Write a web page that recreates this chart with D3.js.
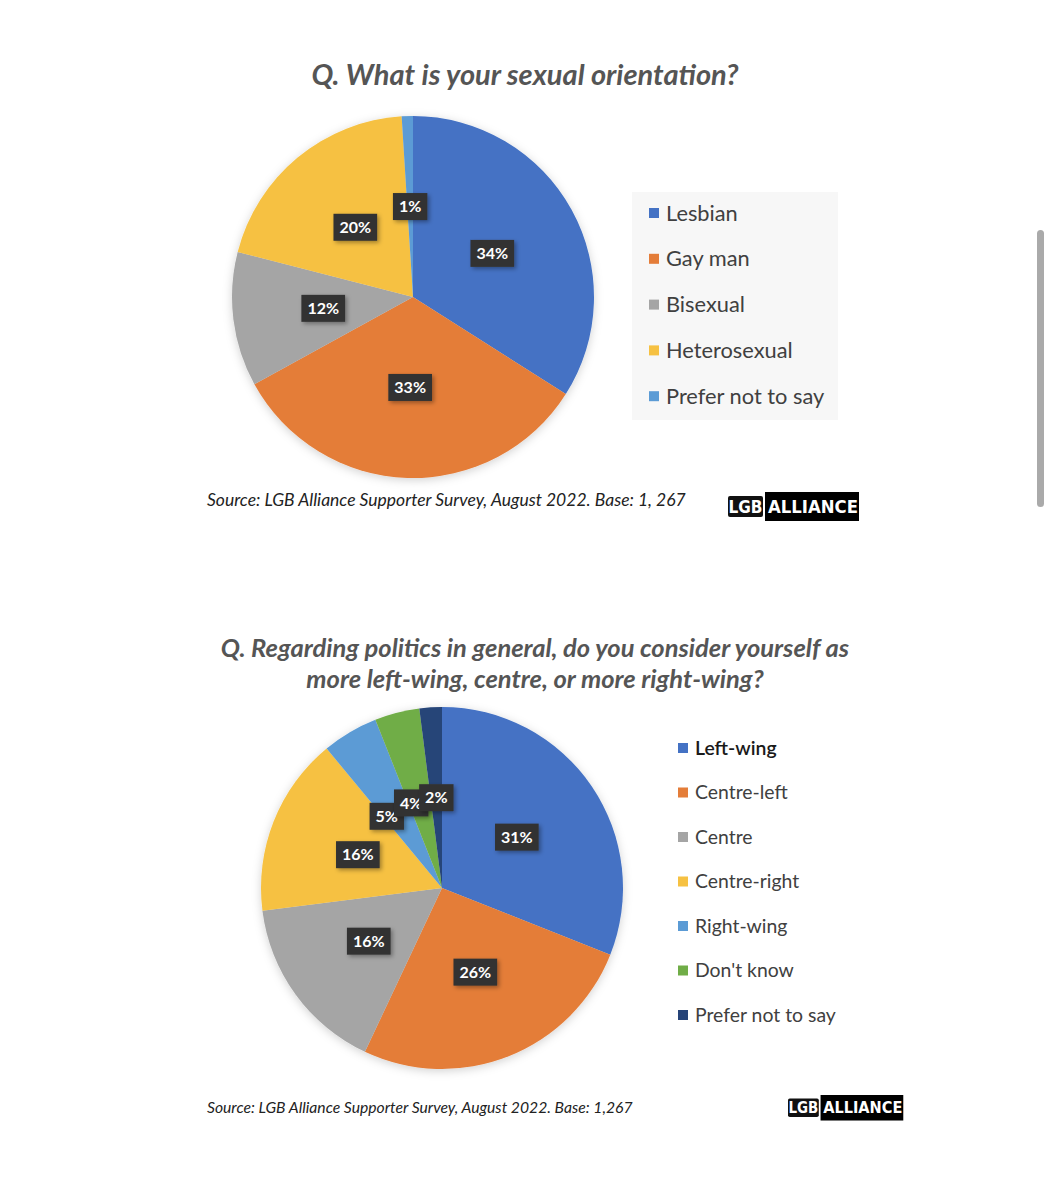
<!DOCTYPE html>
<html>
<head>
<meta charset="utf-8">
<script src="https://cdn.jsdelivr.net/npm/d3@7"></script>
<style>
  body { margin: 0; background: #fff; }
  svg { display: block; font-family: Lato, "Open Sans", sans-serif; }
</style>
</head>
<body>
<div id="chart"></div>
<script>
// chart values
const orientationLabels = ["Lesbian", "Gay man", "Bisexual", "Heterosexual", "Prefer not to say"];
const orientationValues = [34, 33, 12, 20, 1];
const orientationColors = ["#4472C4", "#E47D39", "#A5A5A5", "#F6C142", "#5B9BD5"];

const politicsLabels = ["Left-wing", "Centre-left", "Centre", "Centre-right", "Right-wing", "Don't know", "Prefer not to say"];
const politicsValues = [31, 26, 16, 16, 5, 4, 2];
const politicsColors = ["#4472C4", "#E47D39", "#A5A5A5", "#F6C142", "#5B9BD5", "#70AD47", "#264478"];

const titleTop = ["Q. What is your sexual orientation?"];
const titleBottom = ["Q. Regarding politics in general, do you consider yourself as", "more left-wing, centre, or more right-wing?"];
const sourceTop = "Source: LGB Alliance Supporter Survey, August 2022. Base: 1, 267";
const sourceBottom = "Source: LGB Alliance Supporter Survey, August 2022. Base: 1,267";

const W = 1052, H = 1200;

const svg = d3.select("#chart")
  .append("svg")
  .attr("width", W)
  .attr("height", H);

// filters for soft shadows
const defs = svg.append("defs");
const pieGlow = defs.append("filter").attr("id", "pieGlow")
  .attr("x", "-20%").attr("y", "-20%").attr("width", "140%").attr("height", "140%");
pieGlow.append("feDropShadow")
  .attr("dx", 0).attr("dy", 2).attr("stdDeviation", 5)
  .attr("flood-color", "#000").attr("flood-opacity", 0.18);

const boxShadow = defs.append("filter").attr("id", "boxShadow")
  .attr("x", "-40%").attr("y", "-40%").attr("width", "180%").attr("height", "180%");
boxShadow.append("feDropShadow")
  .attr("dx", 2).attr("dy", 2).attr("stdDeviation", 2)
  .attr("flood-color", "#000").attr("flood-opacity", 0.35);

//Draw a pie with Excel-style dark labels

function drawPie(values, colors, cx, cy, r) {
  const pie = d3.pie().sort(null).value(d => d);
  const arcs = pie(values);
  const arc = d3.arc().innerRadius(0).outerRadius(r);
  const lr = r * 0.5; // label radius

  const g = svg.append("g").attr("transform", `translate(${cx},${cy})`);

  g.append("g")
    .attr("filter", "url(#pieGlow)")
    .selectAll("path")
    .data(arcs)
    .join("path")
    .attr("d", arc)
    .attr("fill", (d, i) => colors[i]);

  const labels = g.append("g")
    .selectAll("g")
    .data(arcs)
    .join("g");

  labels.append("rect")
    .attr("filter", "url(#boxShadow)")
    .attr("fill", "#333")
    .attr("height", 27)
    .attr("y", -13.5);

  labels.append("text")
    .attr("text-anchor", "middle")
    .attr("dy", "0.36em")
    .style("font-size", "16px")
    .style("font-weight", "bold")
    .style("fill", "#fff")
    .text(d => `${d.data}%`);

  // measure, then place labels on the mid-angle; nudge small ones counter-clockwise
  const placed = [];
  const nodes = labels.nodes();
  for (let i = arcs.length - 1; i >= 0; i--) {
    const sel = d3.select(nodes[i]);
    const tw = sel.select("text").node().getComputedTextLength();
    const w = tw + 12;
    sel.select("rect").attr("x", -w / 2).attr("width", w);
    let a = (arcs[i].startAngle + arcs[i].endAngle) / 2;
    let x, y, steps = 0;
    const hits = () => placed.some(p =>
      Math.abs(p.x - x) < (p.tw + tw) / 2 + 2 && Math.abs(p.y - y) < 18);
    do {
      x = lr * Math.sin(a);
      y = -lr * Math.cos(a);
      a -= Math.PI / 360;
      steps++;
    } while (hits() && steps < 80);
    placed.push({ x, y, tw });
    sel.attr("transform", `translate(${x},${y})`);
  }
}

//Legend: small square plus label

function drawLegend(labels, colors, x, y0, step, size, bold) {
  const g = svg.append("g").attr("transform", `translate(${x},${y0})`);
  const item = g.selectAll("g")
    .data(labels)
    .join("g")
    .attr("transform", (d, i) => `translate(0,${i * step})`);

  item.append("rect")
    .attr("x", 0)
    .attr("y", -5)
    .attr("width", 10)
    .attr("height", 10)
    .attr("fill", (d, i) => colors[i]);

  item.append("text")
    .attr("x", 17)
    .attr("dy", "0.35em")
    .style("font-size", `${size}px`)
    .style("fill", (d, i) => (bold && i === 0) ? "#1a1a1a" : "#404040")
    .style("font-weight", (d, i) => (bold && i === 0) ? "600" : "normal")
    .text(d => d);
}

//Logo block: LGB | ALLIANCE

function drawLogo(x, y, scale) {
  const g = svg.append("g").attr("transform", `translate(${x},${y}) scale(${scale})`);
  g.append("rect").attr("x", 0).attr("y", 4).attr("width", 35).attr("height", 21)
    .attr("fill", "#111").attr("rx", 2);
  g.append("text").attr("x", 17.5).attr("y", 21).attr("text-anchor", "middle")
    .style("font-size", "17px").style("font-weight", "bold").style("fill", "#fff")
    .style("font-family", "'DejaVu Sans Condensed', 'Liberation Sans Narrow', sans-serif")
    .text("LGB");
  g.append("rect").attr("x", 37).attr("y", 0).attr("width", 94).attr("height", 29)
    .attr("fill", "#000");
  g.append("text").attr("x", 40).attr("y", 21)
    .style("font-size", "17px").style("font-weight", "bold").style("fill", "#fff")
    .style("font-family", "'DejaVu Sans Condensed', 'Liberation Sans Narrow', sans-serif")
    .attr("textLength", 90).attr("lengthAdjust", "spacingAndGlyphs")
    .text("ALLIANCE");
}

//Titles

svg.append("g").selectAll("text")
  .data(titleTop)
  .join("text")
  .attr("x", 525)
  .attr("y", (d, i) => 85 + i * 31)
  .attr("text-anchor", "middle")
  .style("font-size", "29px")
  .style("font-weight", "bold")
  .style("font-style", "italic")
  .style("fill", "#555")
  .text(d => d);

svg.append("g").selectAll("text")
  .data(titleBottom)
  .join("text")
  .attr("x", 535)
  .attr("y", (d, i) => 657 + i * 31)
  .attr("text-anchor", "middle")
  .style("font-size", "25.5px")
  .style("font-weight", "bold")
  .style("font-style", "italic")
  .style("fill", "#555")
  .text(d => d);

//Top chart

svg.append("rect")
  .attr("x", 632).attr("y", 192)
  .attr("width", 206).attr("height", 228)
  .attr("fill", "#f7f7f7");

drawPie(orientationValues, orientationColors, 413, 297, 181);
drawLegend(orientationLabels, orientationColors, 649, 213, 45.8, 21.8, false);

svg.append("text")
  .attr("x", 207).attr("y", 506)
  .style("font-size", "17.5px")
  .style("font-style", "italic")
  .style("fill", "#222")
  .text(sourceTop);

drawLogo(728, 492, 1);

//Bottom chart

drawPie(politicsValues, politicsColors, 442, 888, 181);
drawLegend(politicsLabels, politicsColors, 678, 748, 44.5, 19.4, true);

svg.append("text")
  .attr("x", 207).attr("y", 1113)
  .style("font-size", "15.7px")
  .style("font-style", "italic")
  .style("fill", "#222")
  .text(sourceBottom);

drawLogo(788, 1095, 0.88);

//Scrollbar of the screenshot

svg.append("rect")
  .attr("x", 1037).attr("y", 230)
  .attr("width", 7).attr("height", 277)
  .attr("rx", 3.5)
  .attr("fill", "#aaa");
</script>
</body>
</html>
